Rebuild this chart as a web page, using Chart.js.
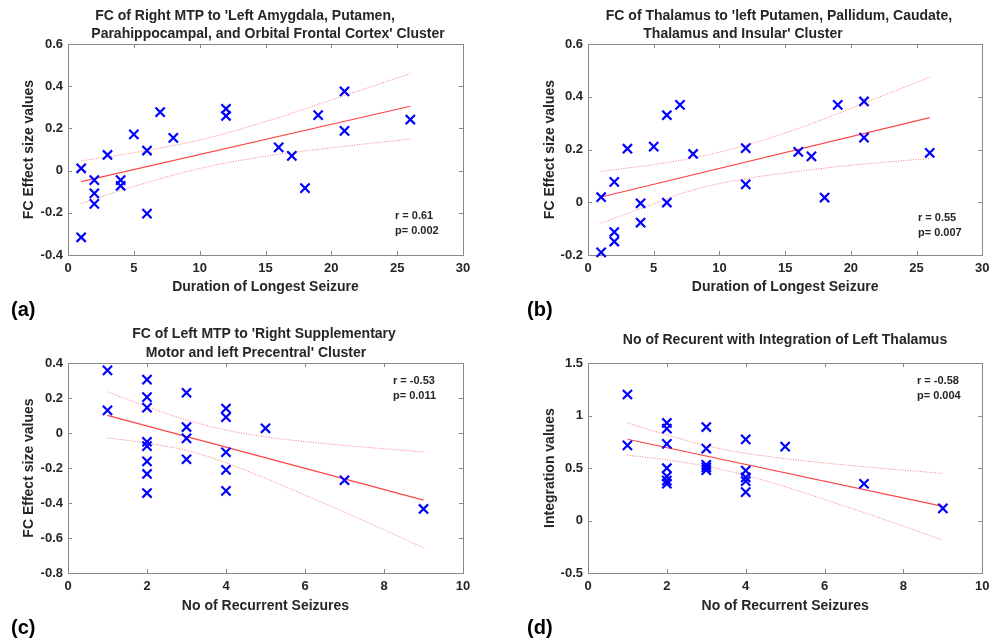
<!DOCTYPE html>
<html>
<head>
<meta charset="utf-8">
<script src="https://cdn.jsdelivr.net/npm/chart.js@4.4.1/dist/chart.umd.min.js"></script>
<style>
    body { margin: 0; background: #fff; width: 991px; height: 641px; position: relative; overflow: hidden;
           font-family: "Liberation Sans", Arial, sans-serif; }
    canvas { position: absolute; }
    .txt { position: absolute; white-space: nowrap; font-weight: bold; color: #262626; }
    .title { font-size: 14px; transform: translate(-50%, -50%); }
    .stat { font-size: 11px; transform: translateY(-50%); }
    .tag { font-size: 20px; color: #000; transform: translateY(-50%); }
</style>
</head>
<body>

<canvas id="chartA" width="495" height="300" style="left:0;top:0"></canvas>
<canvas id="chartB" width="496" height="300" style="left:495px;top:0"></canvas>
<canvas id="chartC" width="495" height="300" style="left:0;top:320px"></canvas>
<canvas id="chartD" width="496" height="300" style="left:495px;top:320px"></canvas>

<div class="txt title" style="left:245px;top:15px">FC of Right MTP to 'Left Amygdala, Putamen,</div>
<div class="txt title" style="left:268px;top:33px">Parahippocampal, and Orbital Frontal Cortex' Cluster</div>
<div class="txt title" style="left:779px;top:15px">FC of Thalamus to 'left Putamen, Pallidum, Caudate,</div>
<div class="txt title" style="left:743px;top:33px">Thalamus and Insular' Cluster</div>
<div class="txt title" style="left:264px;top:333px">FC of Left MTP to 'Right Supplementary</div>
<div class="txt title" style="left:256px;top:352px">Motor and left Precentral' Cluster</div>
<div class="txt title" style="left:785px;top:339px">No of Recurent with Integration of Left Thalamus</div>

<div class="txt stat" style="left:395px;top:215px">r = 0.61</div>
<div class="txt stat" style="left:395px;top:230px">p= 0.002</div>
<div class="txt stat" style="left:918px;top:217px">r = 0.55</div>
<div class="txt stat" style="left:918px;top:232px">p= 0.007</div>
<div class="txt stat" style="left:393px;top:380px">r = -0.53</div>
<div class="txt stat" style="left:393px;top:395px">p= 0.011</div>
<div class="txt stat" style="left:917px;top:380px">r = -0.58</div>
<div class="txt stat" style="left:917px;top:395px">p= 0.004</div>

<div class="txt tag" style="left:11px;top:309px">(a)</div>
<div class="txt tag" style="left:527px;top:309px">(b)</div>
<div class="txt tag" style="left:11px;top:627px">(c)</div>
<div class="txt tag" style="left:527px;top:627px">(d)</div>

<script>
//data (a)
const durationA = [1, 1, 2, 2, 2, 3, 4, 4, 5, 6, 6, 7, 8, 12, 12, 16, 17, 18, 19, 21, 21, 26]
const fcA = [0.011, -0.316, -0.045, -0.108, -0.158, 0.074, -0.045, -0.072, 0.172, 0.095, -0.204, 0.277, 0.155, 0.293, 0.259, 0.110, 0.070, -0.083, 0.263, 0.375, 0.188, 0.242]
const fitXA = [1, 26]
const fitYA = [-0.052, 0.305]
const ciXA = [1, 5, 10, 15, 20, 26]
const ciUpA = [0.046, 0.085, 0.145, 0.232, 0.335, 0.460]
const ciLoA = [-0.155, -0.075, 0.010, 0.068, 0.108, 0.150]

//data (b)
const durationB = [1, 1, 2, 2, 2, 3, 4, 4, 5, 6, 6, 7, 8, 12, 12, 16, 17, 18, 19, 21, 21, 26]
const fcB = [0.019, -0.190, 0.077, -0.113, -0.149, 0.203, -0.004, -0.077, 0.211, 0.330, -0.001, 0.369, 0.183, 0.205, 0.068, 0.191, 0.174, 0.018, 0.369, 0.382, 0.245, 0.187]
const fitXB = [1, 26]
const fitYB = [0.020, 0.321]
const ciXB = [1, 5, 8, 12, 16, 19, 21, 26]
const ciUpB = [0.117, 0.143, 0.168, 0.216, 0.280, 0.336, 0.376, 0.474]
const ciLoB = [-0.079, -0.006, 0.047, 0.089, 0.117, 0.135, 0.145, 0.166]

//data (c)
const recurrentC = [1, 1, 2, 2, 2, 2, 2, 2, 2, 2, 3, 3, 3, 3, 4, 4, 4, 4, 4, 5, 7, 9]
const fcC = [0.358, 0.129, 0.305, 0.205, 0.145, -0.050, -0.075, -0.162, -0.234, -0.343, 0.230, 0.034, -0.031, -0.150, 0.140, 0.090, -0.110, -0.211, -0.331, 0.027, -0.270, -0.434]
const fitXC = [1, 9]
const fitYC = [0.101, -0.384]
const ciXC = [1, 2, 3, 4, 5, 6, 7, 9]
const ciUpC = [0.235, 0.150, 0.075, 0.017, -0.022, -0.049, -0.071, -0.108]
const ciLoC = [-0.028, -0.058, -0.100, -0.170, -0.260, -0.355, -0.452, -0.656]

//data (d)
const recurrentD = [1, 1, 2, 2, 2, 2, 2, 2, 2, 3, 3, 3, 3, 3, 4, 4, 4, 4, 4, 5, 7, 9]
const integrationD = [1.200, 0.716, 0.929, 0.875, 0.730, 0.498, 0.420, 0.380, 0.350, 0.890, 0.684, 0.530, 0.505, 0.480, 0.772, 0.475, 0.410, 0.375, 0.270, 0.703, 0.350, 0.116]
const fitXD = [1, 9]
const fitYD = [0.774, 0.135]
const ciXD = [1, 2, 3, 4, 5, 6, 7, 9]
const ciUpD = [0.928, 0.815, 0.712, 0.640, 0.590, 0.548, 0.512, 0.448]
const ciLoD = [0.622, 0.577, 0.516, 0.430, 0.322, 0.200, 0.076, -0.186]

//ticks
const durationTicks = [0, 5, 10, 15, 20, 25, 30]
const recurrentTicks = [0, 2, 4, 6, 8, 10]
const yTicksA = [-0.4, -0.2, 0, 0.2, 0.4, 0.6]
const yTicksB = [-0.2, 0, 0.2, 0.4, 0.6]
const yTicksC = [-0.8, -0.6, -0.4, -0.2, 0, 0.2, 0.4]
const yTicksD = [-0.5, 0, 0.5, 1, 1.5]

const textColor = '#262626'
const fontFamily = '"Liberation Sans", Arial, sans-serif'

// matlab style box with inward ticks
const boxPlugin = {
    id: 'matlabBox',
    beforeDatasetsDraw(chart) {
        const ctx = chart.ctx
        const a = chart.chartArea
        const len = 4
        ctx.save()
        ctx.strokeStyle = '#8a8a8a'
        ctx.lineWidth = 1
        ctx.beginPath()
        chart.scales.x.ticks.forEach((t) => {
            const px = Math.round(chart.scales.x.getPixelForValue(t.value)) + 0.5
            ctx.moveTo(px, a.bottom); ctx.lineTo(px, a.bottom - len)
            ctx.moveTo(px, a.top); ctx.lineTo(px, a.top + len)
        })
        chart.scales.y.ticks.forEach((t) => {
            const py = Math.round(chart.scales.y.getPixelForValue(t.value)) + 0.5
            ctx.moveTo(a.left, py); ctx.lineTo(a.left + len, py)
            ctx.moveTo(a.right, py); ctx.lineTo(a.right - len, py)
        })
        ctx.stroke()
        ctx.strokeRect(Math.round(a.left) + 0.5, Math.round(a.top) + 0.5, Math.round(a.right - a.left), Math.round(a.bottom - a.top))
        ctx.restore()
    }
}

function points(xs, ys) {
    return xs.map((x, i) => ({x: x, y: ys[i]}))
}

function fmt(v) {
    return String(Math.round(v * 100) / 100)
}

function getChartConfig(p) {
    return {
        type: 'scatter',
        data: {
            datasets: [{
                data: points(p.xs, p.ys),
                pointStyle: 'crossRot',
                pointRadius: 6.5,
                pointBorderWidth: 2.2,
                borderColor: 'rgb(0, 0, 255)',
                backgroundColor: 'rgb(0, 0, 255)',
                showLine: false,
                clip: false
            },
            {
                data: points(p.fitX, p.fitY),
                showLine: true,
                pointRadius: 0,
                borderColor: 'rgb(255, 70, 70)',
                borderWidth: 1.2
            },
            {
                data: points(p.ciX, p.ciUp),
                showLine: true,
                pointRadius: 0,
                borderColor: 'rgba(255, 100, 100, 0.85)',
                borderWidth: 1,
                borderDash: [1, 1.5],
                cubicInterpolationMode: 'monotone'
            },
            {
                data: points(p.ciX, p.ciLo),
                showLine: true,
                pointRadius: 0,
                borderColor: 'rgba(255, 100, 100, 0.85)',
                borderWidth: 1,
                borderDash: [1, 1.5],
                cubicInterpolationMode: 'monotone'
            }]
        },
        options: {
            responsive: false,
            animation: false,
            events: [],
            layout: {padding: p.padding},
            plugins: {
                legend: {display: false},
                tooltip: {enabled: false}
            },
            scales: {
                x: {
                    type: 'linear',
                    min: p.xTicks[0],
                    max: p.xTicks[p.xTicks.length - 1],
                    afterBuildTicks: (s) => { s.ticks = p.xTicks.map((v) => ({value: v})) },
                    afterFit: (s) => { s.height = p.xHeight; s.paddingLeft = 0; s.paddingRight = 0 },
                    grid: {display: false, drawTicks: false},
                    border: {display: false},
                    ticks: {
                        color: textColor,
                        font: {family: fontFamily, size: 13, weight: 'bold'},
                        padding: 6,
                        maxRotation: 0,
                        autoSkip: false,
                        callback: fmt
                    },
                    title: {
                        display: true,
                        text: p.xTitle,
                        color: textColor,
                        font: {family: fontFamily, size: 14, weight: 'bold'},
                        padding: {top: 0, bottom: p.xTitlePad}
                    }
                },
                y: {
                    type: 'linear',
                    min: p.yTicks[0],
                    max: p.yTicks[p.yTicks.length - 1],
                    afterBuildTicks: (s) => { s.ticks = p.yTicks.map((v) => ({value: v})) },
                    afterFit: (s) => { s.width = p.yWidth; s.paddingTop = 0; s.paddingBottom = 0 },
                    grid: {display: false, drawTicks: false},
                    border: {display: false},
                    ticks: {
                        color: textColor,
                        font: {family: fontFamily, size: 13, weight: 'bold'},
                        padding: 5,
                        autoSkip: false,
                        callback: fmt
                    },
                    title: {
                        display: true,
                        text: p.yTitle,
                        color: textColor,
                        font: {family: fontFamily, size: 14, weight: 'bold'},
                        padding: {top: p.yTitlePad, bottom: 0}
                    }
                }
            }
        },
        plugins: [boxPlugin]
    }
}

new Chart(document.getElementById('chartA'), getChartConfig({
    xs: durationA, ys: fcA, fitX: fitXA, fitY: fitYA, ciX: ciXA, ciUp: ciUpA, ciLo: ciLoA,
    xTicks: durationTicks, yTicks: yTicksA,
    xTitle: 'Duration of Longest Seizure', yTitle: 'FC Effect size values',
    padding: {left: 0, top: 44, right: 32, bottom: 0},
    yWidth: 68, xHeight: 45, yTitlePad: 20.6, xTitlePad: 4.6
}))

new Chart(document.getElementById('chartB'), getChartConfig({
    xs: durationB, ys: fcB, fitX: fitXB, fitY: fitYB, ciX: ciXB, ciUp: ciUpB, ciLo: ciLoB,
    xTicks: durationTicks, yTicks: yTicksB,
    xTitle: 'Duration of Longest Seizure', yTitle: 'FC Effect size values',
    padding: {left: 0, top: 44, right: 7, bottom: 0},
    yWidth: 93, xHeight: 45, yTitlePad: 46.6, xTitlePad: 4.6
}))

new Chart(document.getElementById('chartC'), getChartConfig({
    xs: recurrentC, ys: fcC, fitX: fitXC, fitY: fitYC, ciX: ciXC, ciUp: ciUpC, ciLo: ciLoC,
    xTicks: recurrentTicks, yTicks: yTicksC,
    xTitle: 'No of Recurrent Seizures', yTitle: 'FC Effect size values',
    padding: {left: 0, top: 43, right: 32, bottom: 0},
    yWidth: 68, xHeight: 47, yTitlePad: 20.6, xTitlePad: 5.6
}))

new Chart(document.getElementById('chartD'), getChartConfig({
    xs: recurrentD, ys: integrationD, fitX: fitXD, fitY: fitYD, ciX: ciXD, ciUp: ciUpD, ciLo: ciLoD,
    xTicks: recurrentTicks, yTicks: yTicksD,
    xTitle: 'No of Recurrent Seizures', yTitle: 'Integration values',
    padding: {left: 0, top: 43, right: 7, bottom: 0},
    yWidth: 93, xHeight: 47, yTitlePad: 46.6, xTitlePad: 5.6
}))
</script>
</body>
</html>
